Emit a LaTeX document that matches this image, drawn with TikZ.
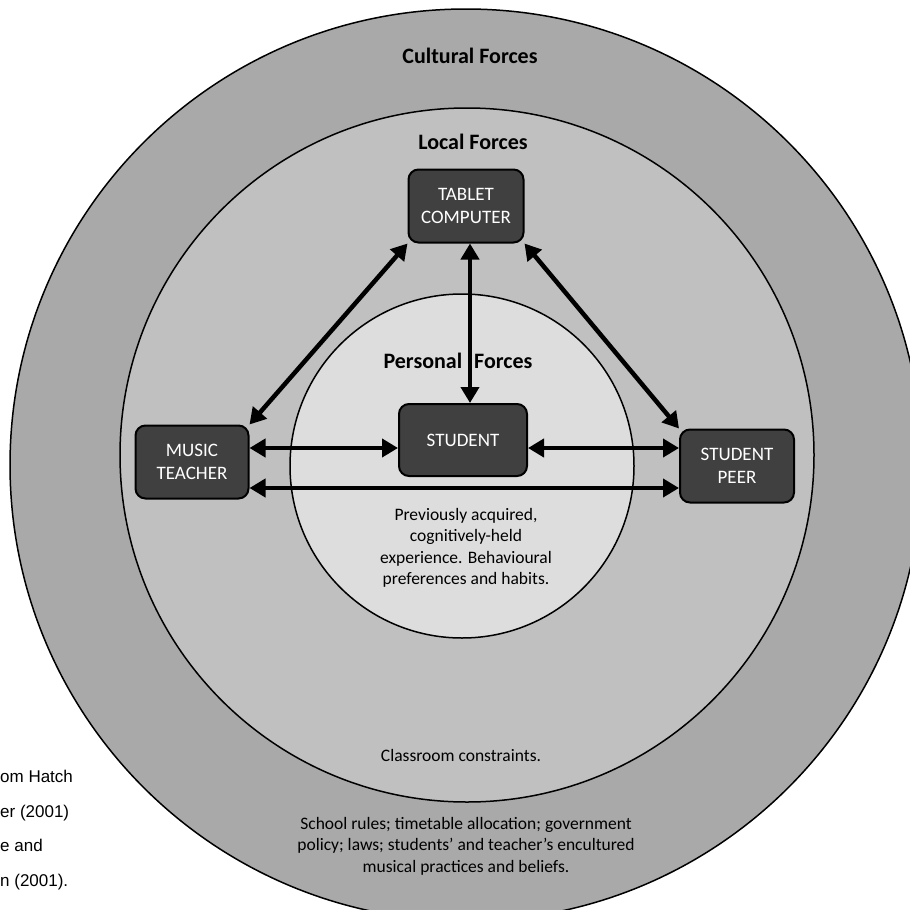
\documentclass[tikz,border=0pt]{standalone}
\usepackage{fontspec}
\setmainfont{Carlito}
\newfontfamily\captionfont{Liberation Sans}
\definecolor{culturalgrey}{RGB}{169,169,169}
\definecolor{localgrey}{RGB}{192,192,192}
\definecolor{personalgrey}{RGB}{221,221,221}
\definecolor{agentgrey}{RGB}{64,64,64}
\usetikzlibrary{arrows.meta,positioning,calc}

\begin{document}
\begin{tikzpicture}[x=1pt, y=-1pt,
    every node/.style={font=\fontsize{17.5}{21.5}\selectfont, inner sep=0pt},
    agent/.style={draw=black, line width=2pt, rounded corners=10pt, fill=agentgrey, text=white, align=center, font=\fontsize{19}{23}\selectfont, minimum height=73pt},
    heading/.style={font=\fontsize{22}{26}\selectfont\bfseries},
    note/.style={align=center},
    ring/.style={draw=black, line width=1.5pt},
    link/.style={{Triangle[length=16pt,width=18pt]}-{Triangle[length=16pt,width=18pt]}, line width=4.5pt}]
    \useasboundingbox (0,0) rectangle (910,910);
    % Three rings of forces
    \draw[ring, fill=culturalgrey] (466,465) circle[radius=456pt];
    \draw[ring, fill=localgrey] (467,455) circle[radius=347pt];
    \draw[ring, fill=personalgrey] (462,466) circle[radius=172pt];

    \node[heading] (cultural) at (470,56) {Cultural Forces};
    \node[heading] (local) at (473,142) {Local Forces};
    \node[heading] (personal) at (458,361) {Personal\hspace{12pt}Forces};

    \node[note] (habits) at (466,548) {Previously acquired,\\cognitively-held\\experience. Behavioural\\preferences and habits.};
    \node[note] (classroom) at (461,755) {Classroom constraints.};
    \node[note] (school) at (466,846) {School rules; timetable allocation; government\\policy; laws; students' and teacher's encultured\\musical practices and beliefs.};

    % Cut-off source text on the left
    \node[font=\captionfont\fontsize{17}{34.5}\selectfont, align=left, anchor=west] (source) at (0,830) {om Hatch\\er (2001)\\e and\\n (2001).};

    % Agents
    \node[agent, minimum width=115pt] (tablet) at (466,206) {TABLET\\COMPUTER};
    \node[agent, minimum width=113pt] (teacher) at (192,462) {MUSIC\\TEACHER};
    \node[agent, minimum width=128pt, minimum height=72pt] (student) at (463,440) {STUDENT};
    \node[agent, minimum width=114pt] (peer) at (737,466) {STUDENT\\PEER};

    % Interactions
    \draw[link] (tablet.south west) -- (teacher.north east);
    \draw[link] (tablet.south east) -- (peer.north west);
    \draw[link] ([xshift=4pt]tablet.south) -- ([xshift=4pt]tablet.south |- student.north);
    \draw[link] ([yshift=14pt]teacher.east) -- ([yshift=14pt]teacher.east -| student.west);
    \draw[link] ([yshift=14pt]teacher.east -| student.east) -- ([yshift=14pt]teacher.east -| peer.west);
    \draw[link] ([yshift=-26pt]teacher.east) -- ([yshift=-26pt]teacher.east -| peer.west);
\end{tikzpicture}
\end{document}
